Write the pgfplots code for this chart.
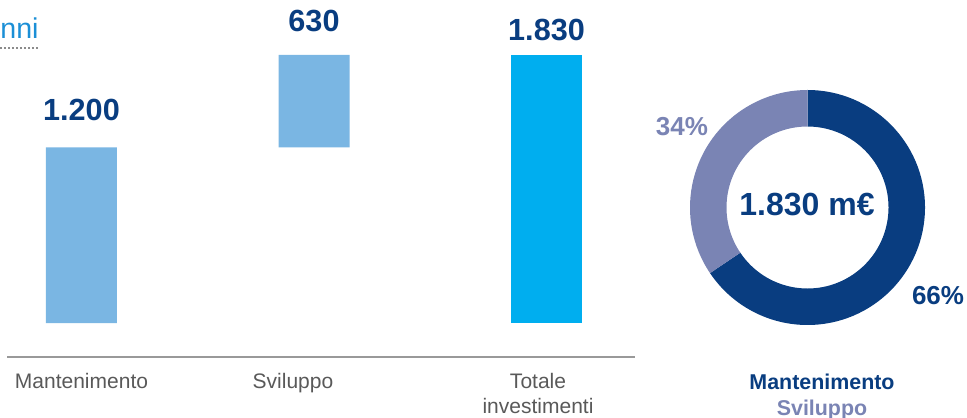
\documentclass[border=0pt]{standalone}
\usepackage{fontspec}
\setmainfont{Liberation Sans}
\usepackage{pgfplots}
\pgfplotsset{compat=1.18}
\usepackage{pgfplotstable}

\definecolor{navy}{HTML}{093D80}
\definecolor{lavender}{HTML}{7A84B4}
\definecolor{barlight}{HTML}{7AB6E3}
\definecolor{bartotal}{HTML}{00AEEF}
\definecolor{labelgray}{HTML}{595959}
\definecolor{axisgray}{HTML}{999999}
\definecolor{titleblue}{HTML}{1B8FD6}

% split of the total, for the ring
\pgfplotstableread{
part         value
Mantenimento 1200
Sviluppo     630
}\shares

% shared geometry of the bar panel
\pgfplotsset{barpanel/.style={
  at={(3.5pt,30pt)}, anchor=south west,
  scale only axis, width=314pt, height=151pt,
  xmin=-0.3204, xmax=2.3806, ymin=-232, ymax=1830,
  clip=false,
}}

\begin{document}
\begin{tikzpicture}
  \useasboundingbox (0,0) rectangle (483.5pt,208.5pt);

  % cut-off title at the top left
  \node[anchor=base east, inner sep=0pt, text=titleblue, font=\fontsize{14.3}{16}\selectfont] at (19.5pt,189pt) {nni};
  \draw[labelgray!70, line width=1pt, dash pattern=on 1pt off 1pt] (0,184.5pt) -- (19.5pt,184.5pt);

  % waterfall bars
  \begin{axis}[
    barpanel,
    ybar stacked, bar width=35.5pt,
    axis y line=none, axis x line*=bottom,
    x axis line style={draw=axisgray, line width=1.4pt, -},
    xtick={0,0.9097,1.9634},
    xticklabels={Mantenimento, Sviluppo, Totale\\investimenti},
    major tick length=0pt,
    xticklabel style={font=\fontsize{10.5}{12.5}\selectfont, text=labelgray, align=center, anchor=north, yshift=-4.5pt},
  ]
    \addplot[draw=none, fill=none] coordinates {(0,0) (1,1200) (2,0)};
    \addplot[draw=none, fill=barlight] coordinates {(0,1200) (1,630) (2,0)};
    \addplot[draw=none, fill=bartotal] coordinates {(0,0) (1,0) (2,1830)};
  \end{axis}

  % value labels on top of the bars
  \begin{axis}[
    barpanel, hide axis,
    point meta=explicit symbolic,
    nodes near coords,
    every node near coord/.append style={font=\bfseries\fontsize{15.3}{18}\selectfont, text=navy, anchor=base, inner sep=0pt},
  ]
    \addplot[draw=none, every node near coord/.append style={yshift=13.5pt}]
      coordinates {(0,1200) [1.200]};
    \addplot[draw=none, every node near coord/.append style={yshift=11.5pt}]
      coordinates {(1,1830) [630]};
    \addplot[draw=none, every node near coord/.append style={yshift=7pt}]
      coordinates {(2,1830) [1.830]};
  \end{axis}

  % ring
  \begin{axis}[
    at={(345pt,46pt)}, anchor=south west,
    scale only axis, width=117.5pt, height=117.5pt,
    xmin=-1, xmax=1, ymin=-1, ymax=1,
    hide axis, clip=false,
  ]
    \pgfplotstablegetelem{0}{value}\of\shares \let\va\pgfplotsretval
    \pgfplotstablegetelem{1}{value}\of\shares \let\vb\pgfplotsretval
    \pgfmathsetmacro{\ea}{90-360*(\va/(\va+\vb))}
    \fill[navy] ([shift={(90:58.75pt)}]axis cs:0,0) arc[start angle=90, end angle=\ea, radius=58.75pt]
      -- ([shift={(\ea:40.5pt)}]axis cs:0,0) arc[start angle=\ea, end angle=90, radius=40.5pt] -- cycle;
    \fill[lavender] ([shift={(\ea:58.75pt)}]axis cs:0,0) arc[start angle=\ea, end angle=-270, radius=58.75pt]
      -- ([shift={(-270:40.5pt)}]axis cs:0,0) arc[start angle=-270, end angle=\ea, radius=40.5pt] -- cycle;
  \end{axis}

  \node[text=navy, font=\bfseries\fontsize{16}{18}\selectfont, inner sep=0pt] at (403.5pt,106pt) {1.830 m€};
  \node[text=lavender, font=\bfseries\fontsize{13}{15}\selectfont, inner sep=0pt] at (341pt,145pt) {34\%};
  \node[text=navy, font=\bfseries\fontsize{13}{15}\selectfont, inner sep=0pt] at (469pt,60.5pt) {66\%};
  \node[anchor=base, text=navy, font=\bfseries\fontsize{10.7}{12}\selectfont, inner sep=0pt] at (411pt,13.5pt) {Mantenimento};
  \node[anchor=base, text=lavender, font=\bfseries\fontsize{10.7}{12}\selectfont, inner sep=0pt] at (411pt,1pt) {Sviluppo};
\end{tikzpicture}
\end{document}
